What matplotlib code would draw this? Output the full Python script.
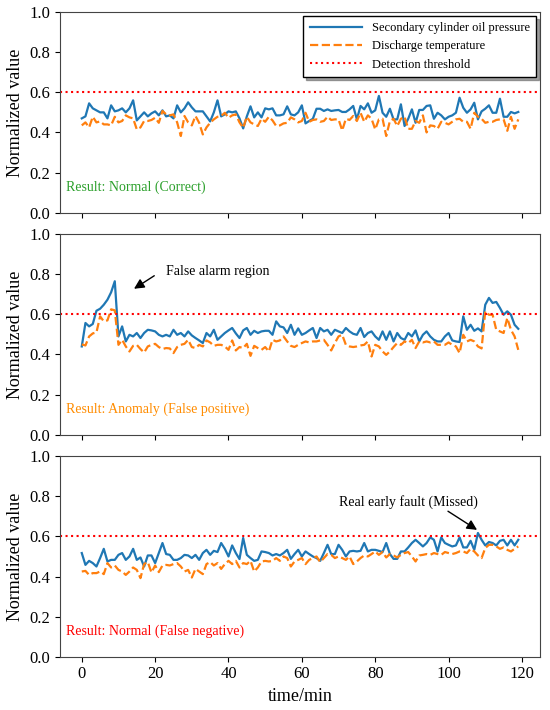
import matplotlib
matplotlib.use("Agg")
import matplotlib.pyplot as plt
import numpy as np

plt.rcParams['font.family'] = ['Liberation Serif', 'DejaVu Serif']
plt.rcParams['mathtext.fontset'] = 'stix'

time_min = list(range(120))

p1_pressure = [
    0.47, 0.48, 0.545, 0.52, 0.51, 0.50, 0.50, 0.47, 0.535, 0.505,
    0.51, 0.52, 0.50, 0.52, 0.56, 0.46, 0.48, 0.50, 0.48, 0.495,
    0.505, 0.485, 0.51, 0.48, 0.485, 0.47, 0.535, 0.50, 0.52, 0.55,
    0.525, 0.505, 0.505, 0.505, 0.48, 0.455, 0.50, 0.56, 0.48, 0.49,
    0.505, 0.50, 0.505, 0.47, 0.42, 0.48, 0.53, 0.475, 0.50, 0.475,
    0.52, 0.515, 0.52, 0.485, 0.485, 0.49, 0.53, 0.49, 0.485, 0.50,
    0.535, 0.445, 0.457, 0.468, 0.518, 0.518, 0.507, 0.515, 0.507, 0.51,
    0.512, 0.502, 0.502, 0.515, 0.532, 0.465, 0.532, 0.515, 0.545, 0.498,
    0.51, 0.582, 0.498, 0.478, 0.518, 0.465, 0.465, 0.54, 0.432, 0.468,
    0.515, 0.448, 0.512, 0.512, 0.532, 0.535, 0.468, 0.498, 0.485, 0.465,
    0.478, 0.485, 0.498, 0.573, 0.523, 0.498, 0.515, 0.548, 0.465, 0.505,
    0.518, 0.535, 0.498, 0.498, 0.568, 0.478, 0.478, 0.502, 0.495, 0.502,
]
p1_temperature = [
    0.435, 0.45, 0.425, 0.478, 0.45, 0.455, 0.44, 0.44, 0.435, 0.478,
    0.45, 0.457, 0.485, 0.475, 0.47, 0.415, 0.425, 0.457, 0.457, 0.462,
    0.473, 0.448, 0.507, 0.49, 0.485, 0.49, 0.45, 0.382, 0.482, 0.45,
    0.435, 0.482, 0.448, 0.39, 0.425, 0.448, 0.465, 0.478, 0.482, 0.498,
    0.473, 0.485, 0.49, 0.45, 0.423, 0.478, 0.45, 0.44, 0.432, 0.468,
    0.453, 0.478, 0.46, 0.432, 0.435, 0.445, 0.448, 0.475, 0.465, 0.45,
    0.457, 0.498, 0.453, 0.462, 0.465, 0.453, 0.457, 0.478, 0.462, 0.465,
    0.465, 0.41, 0.468, 0.462, 0.482, 0.457, 0.498, 0.453, 0.485, 0.468,
    0.415, 0.465, 0.468, 0.382, 0.457, 0.468, 0.432, 0.468, 0.478, 0.418,
    0.418, 0.457, 0.448, 0.485, 0.40, 0.435, 0.432, 0.418, 0.453, 0.448,
    0.44, 0.453, 0.465, 0.468, 0.453, 0.453, 0.418, 0.498, 0.478, 0.468,
    0.448, 0.453, 0.453, 0.462, 0.465, 0.465, 0.408, 0.478, 0.418, 0.465,
]

p2_pressure = [
    0.44, 0.557, 0.54, 0.552, 0.618, 0.628, 0.648, 0.673, 0.71, 0.765,
    0.49, 0.54, 0.465, 0.498, 0.49, 0.507, 0.482, 0.507, 0.523, 0.52,
    0.515, 0.498, 0.49, 0.498, 0.49, 0.523, 0.498, 0.507, 0.49, 0.515,
    0.495, 0.482, 0.47, 0.457, 0.507, 0.49, 0.523, 0.473, 0.49, 0.507,
    0.52, 0.532, 0.505, 0.482, 0.52, 0.532, 0.498, 0.518, 0.507, 0.515,
    0.518, 0.518, 0.498, 0.565, 0.54, 0.535, 0.507, 0.548, 0.498, 0.53,
    0.498, 0.507, 0.52, 0.532, 0.482, 0.532, 0.515, 0.523, 0.498, 0.523,
    0.515, 0.507, 0.532, 0.515, 0.503, 0.498, 0.532, 0.487, 0.507, 0.515,
    0.49, 0.473, 0.515, 0.473, 0.515, 0.465, 0.507, 0.482, 0.473, 0.507,
    0.49, 0.52, 0.465, 0.498, 0.515, 0.49, 0.473, 0.465, 0.465, 0.49,
    0.507, 0.47, 0.465, 0.462, 0.59, 0.523, 0.548, 0.518, 0.53, 0.515,
    0.648, 0.682, 0.657, 0.662, 0.632, 0.598, 0.615, 0.598, 0.548, 0.528,
]
p2_temperature = [
    0.45, 0.445, 0.49, 0.505, 0.51, 0.59, 0.565, 0.57, 0.625, 0.62,
    0.448, 0.473, 0.44, 0.415, 0.443, 0.448, 0.427, 0.41, 0.44, 0.448,
    0.453, 0.437, 0.427, 0.432, 0.43, 0.407, 0.437, 0.448, 0.453, 0.473,
    0.437, 0.432, 0.448, 0.44, 0.47, 0.46, 0.443, 0.448, 0.448, 0.44,
    0.423, 0.47, 0.42, 0.437, 0.432, 0.453, 0.393, 0.443, 0.432, 0.423,
    0.437, 0.415, 0.473, 0.465, 0.47, 0.49, 0.465, 0.443, 0.437, 0.448,
    0.457, 0.465, 0.46, 0.465, 0.465, 0.47, 0.473, 0.448, 0.42, 0.457,
    0.49, 0.498, 0.448, 0.44, 0.437, 0.44, 0.445, 0.448, 0.465, 0.39,
    0.448, 0.44, 0.415, 0.398, 0.415, 0.437, 0.457, 0.448, 0.465, 0.457,
    0.473, 0.432, 0.465, 0.46, 0.465, 0.46, 0.465, 0.448, 0.448, 0.448,
    0.46, 0.448, 0.44, 0.407, 0.498, 0.465, 0.473, 0.465, 0.44, 0.43,
    0.615, 0.598, 0.598, 0.523, 0.515, 0.507, 0.582, 0.523, 0.49, 0.423,
]

p3_pressure = [
    0.517, 0.458, 0.478, 0.467, 0.45, 0.492, 0.538, 0.475, 0.483, 0.483,
    0.508, 0.517, 0.483, 0.50, 0.538, 0.483, 0.495, 0.45, 0.505, 0.505,
    0.467, 0.517, 0.567, 0.512, 0.508, 0.483, 0.483, 0.492, 0.508, 0.505,
    0.492, 0.508, 0.483, 0.517, 0.533, 0.508, 0.528, 0.522, 0.567, 0.538,
    0.50, 0.555, 0.517, 0.487, 0.592, 0.508, 0.492, 0.478, 0.483, 0.525,
    0.522, 0.517, 0.505, 0.512, 0.505, 0.517, 0.533, 0.488, 0.512, 0.533,
    0.50, 0.525, 0.512, 0.50, 0.492, 0.478, 0.517, 0.558, 0.512, 0.512,
    0.558, 0.533, 0.50, 0.525, 0.528, 0.525, 0.528, 0.567, 0.525, 0.533,
    0.533, 0.528, 0.522, 0.567, 0.512, 0.488, 0.488, 0.525, 0.525, 0.545,
    0.567, 0.583, 0.567, 0.55, 0.567, 0.595, 0.583, 0.525, 0.595, 0.567,
    0.558, 0.55, 0.555, 0.595, 0.545, 0.545, 0.578, 0.533, 0.617, 0.583,
    0.555, 0.572, 0.567, 0.555, 0.578, 0.583, 0.555, 0.583, 0.555, 0.583,
]
p3_temperature = [
    0.425, 0.428, 0.408, 0.417, 0.417, 0.425, 0.412, 0.467, 0.445, 0.455,
    0.433, 0.425, 0.408, 0.425, 0.445, 0.433, 0.392, 0.462, 0.472, 0.42,
    0.455, 0.422, 0.455, 0.458, 0.455, 0.462, 0.467, 0.45, 0.425, 0.433,
    0.395, 0.438, 0.425, 0.412, 0.462, 0.472, 0.455, 0.467, 0.438, 0.462,
    0.478, 0.462, 0.478, 0.445, 0.467, 0.462, 0.478, 0.425, 0.445, 0.475,
    0.478, 0.475, 0.478, 0.492, 0.478, 0.50, 0.492, 0.45, 0.475, 0.483,
    0.492, 0.462, 0.483, 0.492, 0.50, 0.472, 0.492, 0.512, 0.508, 0.492,
    0.50, 0.492, 0.483, 0.50, 0.462, 0.475, 0.492, 0.505, 0.50, 0.512,
    0.525, 0.508, 0.522, 0.495, 0.512, 0.505, 0.495, 0.508, 0.517, 0.522,
    0.50, 0.475, 0.505, 0.508, 0.512, 0.508, 0.517, 0.512, 0.508, 0.522,
    0.517, 0.512, 0.517, 0.525, 0.525, 0.517, 0.538, 0.525, 0.505, 0.492,
    0.542, 0.558, 0.558, 0.55, 0.538, 0.545, 0.533, 0.525, 0.538, 0.55,
]

threshold = 0.6
series_labels = ['Secondary cylinder oil pressure', 'Discharge temperature', 'Detection threshold']
result_texts = ['Result: Normal (Correct)', 'Result: Anomaly (False positive)', 'Result: Normal (False negative)']
result_colors = ['#2ca02c', '#ff8c00', '#ff0000']
yticks = [0.0, 0.2, 0.4, 0.6, 0.8, 1.0]
xticks = [0, 20, 40, 60, 80, 100, 120]

panels = [(p1_pressure, p1_temperature), (p2_pressure, p2_temperature), (p3_pressure, p3_temperature)]

fig, axes = plt.subplots(3, 1, figsize=(5.5, 7.1), dpi=100, sharex=True)
fig.subplots_adjust(left=0.109, right=0.982, top=0.983, bottom=0.075, hspace=0.107)

for i, (ax, (pr, tp)) in enumerate(zip(axes, panels)):
    ax.plot(time_min, pr, color='#1f77b4', lw=1.6, label=series_labels[0])
    ax.plot(time_min, tp, color='#ff7f0e', lw=1.6, ls='--', label=series_labels[1])
    ax.axhline(threshold, color='red', lw=1.5, ls=':', label=series_labels[2])
    ax.set_ylim(0, 1)
    ax.set_yticks(yticks)
    ax.set_yticklabels([f'{v:.1f}' for v in yticks], fontsize=12)
    ax.set_ylabel('Normalized value', fontsize=13)
    for s in ax.spines.values():
        s.set_color('#444444')
    ax.text(0.012, 0.125, result_texts[i], transform=ax.transAxes, color=result_colors[i],
            fontsize=10, va='center', ha='left')

axes[2].set_xticks(xticks)
axes[2].set_xticklabels([str(v) for v in xticks], fontsize=12)
axes[2].set_xlabel('time/min', fontsize=13)

leg = axes[0].legend(loc='upper right', fontsize=9, fancybox=False, shadow=True,
                     framealpha=1, edgecolor='black', handlelength=4.2, borderpad=0.5,
                     borderaxespad=0.3)
leg.get_frame().set_linewidth(1.0)

arrow = dict(arrowstyle='-|>', color='black', lw=1.0, mutation_scale=15)
axes[1].annotate('', xy=(13.6, 0.72), xytext=(20.4, 0.80), arrowprops=arrow)
axes[1].text(23.0, 0.815, 'False alarm region', fontsize=10, va='center', ha='left')

axes[2].annotate('', xy=(108.4, 0.625), xytext=(99.2, 0.733), arrowprops=arrow)
axes[2].text(70.0, 0.77, 'Real early fault (Missed)', fontsize=10, va='center', ha='left')

fig.savefig('out.png', dpi=100)
